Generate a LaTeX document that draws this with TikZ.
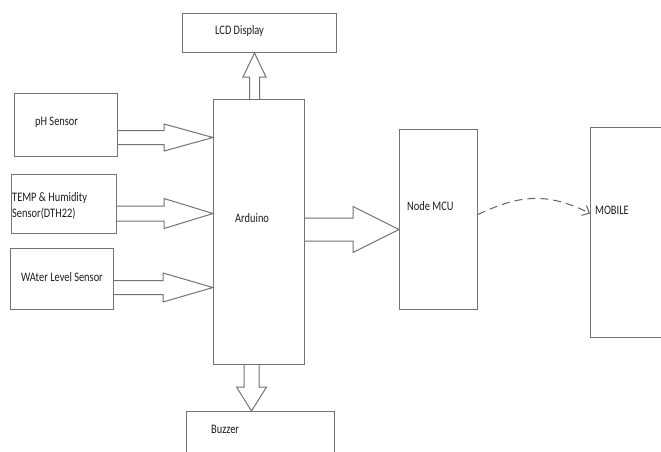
\documentclass[tikz,border=0pt]{standalone}
\usepackage{fontspec}
\setmainfont{Carlito}[FakeStretch=0.8]
\usetikzlibrary{calc,arrows.meta}
\definecolor{lineC}{RGB}{115,115,115}
\definecolor{txtC}{RGB}{30,30,30}
\tikzset{
  box/.style={draw=lineC, line width=1pt, rectangle, inner sep=0pt, anchor=north west},
  lbl/.style={text=txtC, font=\fontsize{13}{16}\selectfont, anchor=west, inner sep=0pt, align=left},
  barrow/.style={draw=lineC, line width=1pt, line join=miter},
  wifi/.style={draw=lineC!85!black, line width=1pt, dash pattern=on 8pt off 5pt,
    -{Straight Barb[length=6pt,width=11pt]}}
}
% horizontal block arrow: #1 shaft start, #2 tip, #3 half shaft, #4 half head, #5 head length
\newcommand\harr[5]{%
  \draw[barrow] let \p1=(#1),\p2=(#2) in
    (\x1,\y2+#3pt) -- (\x2-#5pt,\y2+#3pt) -- (\x2-#5pt,\y2+#4pt) -- (\x2,\y2)
    -- (\x2-#5pt,\y2-#4pt) -- (\x2-#5pt,\y2-#3pt) -- (\x1,\y2-#3pt);}
% vertical block arrow: #1 shaft start, #2 tip, #3 half shaft, #4 half head, #5 head offset (signed)
\newcommand\varr[5]{%
  \draw[barrow] let \p1=(#1),\p2=(#2),\p3=($(#2)+(0,#5)$) in
    (\x2-#3pt,\y1) -- (\x2-#3pt,\y3) -- (\x2-#4pt,\y3) -- (\x2,\y2)
    -- (\x2+#4pt,\y3) -- (\x2+#3pt,\y3) -- (\x2+#3pt,\y1);}
\begin{document}
\begin{tikzpicture}[x=1pt,y=-1pt]
\useasboundingbox (0,0) rectangle (661,451);
\clip (0,0) rectangle (661,451);
\fill[white] (0,0) rectangle (661,451);

% boxes
\node[box, minimum width=154pt, minimum height=39pt]  (lcd)   at (182,13)  {};
\node[box, minimum width=103pt, minimum height=63pt]  (ph)    at (14,93)   {};
\node[box, minimum width=105pt, minimum height=59pt]  (temp)  at (11,174)  {};
\node[box, minimum width=103pt, minimum height=61pt]  (water) at (10,248)  {};
\node[box, minimum width=91pt,  minimum height=265pt] (ard)   at (213,99)  {};
\node[box, minimum width=148pt, minimum height=80pt]  (buz)   at (186,411) {};
\node[box, minimum width=78pt,  minimum height=180pt] (nm)    at (399,129) {};
\node[box, minimum width=120pt, minimum height=210pt] (mob)   at (590,127) {};

% labels
\node[lbl] (lcdT)   at ($(lcd.west)+(33,-1.5)$)   {LCD Display};
\node[lbl] (phT)    at ($(ph.west)+(21,-2.5)$)    {pH Sensor};
\node[lbl] (tempT)  at ($(temp.west)+(1,1.5)$)    {TEMP \& Humidity\\Sensor(DTH22)};
\node[lbl] (waterT) at ($(water.west)+(11,-1.5)$) {WAter Level Sensor};
\node[lbl] (ardT)   at ($(ard.west)+(22,-13.5)$)  {Arduino};
\node[lbl] (buzT)   at ($(buz.north west)+(25,18)$) {Buzzer};
\node[lbl] (nmT)    at ($(nm.west)+(8,-13)$)      {Node MCU};
\node[lbl] (mobT)   at ($(mob.west)+(5,-22)$)     {MOBILE};

% arrow tips
\coordinate (phY)    at ($(ph.east)+(0,12.5)$);
\coordinate (phTip)  at (phY -| ard.west);
\coordinate (tmY)    at ($(temp.east)+(0,9.5)$);
\coordinate (tmTip)  at (tmY -| ard.west);
\coordinate (wtY)    at ($(water.east)+(0,8.5)$);
\coordinate (wtTip)  at (wtY -| ard.west);
\coordinate (nmY)    at ($(ard.east)+(0,-2.5)$);
\coordinate (nmTip)  at (nmY -| nm.west);
\coordinate (lcdTip) at ($(lcd.south)+(-5,0)$);
\coordinate (lcdSrc) at (lcdTip |- ard.north);
\coordinate (buzTip) at ($(buz.north)+(-9,0)$);
\coordinate (buzSrc) at (buzTip |- ard.south);

% block arrows
\harr{ph.east}{phTip}{7}{13.5}{49}
\harr{temp.east}{tmTip}{7.5}{15}{49}
\harr{water.east}{wtTip}{7}{14.5}{50}
\harr{ard.east}{nmTip}{11.5}{23}{46}
\varr{lcdSrc}{lcdTip}{5}{11.5}{24}
\varr{buzSrc}{buzTip}{7.5}{15}{-24}

% wireless link
\draw[wifi] ($(nm.east)+(0,-5)$) .. controls +(38,-18) and +(-45,-23) .. ($(mob.west)+(0,-19)$);
\end{tikzpicture}
\end{document}
